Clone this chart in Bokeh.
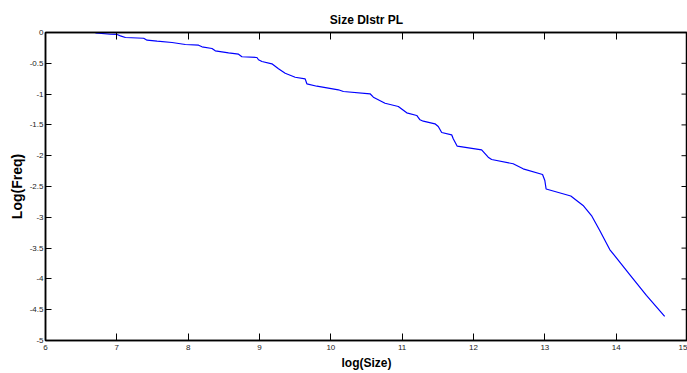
from bokeh.plotting import figure
from bokeh.models import LinearAxis, FixedTicker, Range1d
from bokeh.embed import file_html
from bokeh.resources import INLINE

# ---- data ----
log_size = [6.700, 6.910, 7.004, 7.050, 7.120, 7.376, 7.424, 7.564, 7.774, 7.960,
            8.146, 8.194, 8.334, 8.380, 8.566, 8.706, 8.754, 8.964, 8.986, 9.034,
            9.174, 9.266, 9.360, 9.500, 9.640, 9.664, 9.804, 10.106, 10.176, 10.550,
            10.596, 10.760, 10.946, 11.064, 11.204, 11.250, 11.296, 11.460, 11.506, 11.554,
            11.694, 11.716, 11.772, 12.114, 12.206, 12.254, 12.556, 12.696, 12.968, 13.000,
            13.018, 13.364, 13.536, 13.654, 13.770, 13.910, 14.190, 14.424, 14.680]
log_freq = [-0.005, -0.028, -0.032, -0.054, -0.081, -0.093, -0.125, -0.141, -0.162, -0.195,
            -0.206, -0.232, -0.260, -0.297, -0.330, -0.352, -0.394, -0.406, -0.442, -0.471,
            -0.508, -0.589, -0.661, -0.726, -0.752, -0.833, -0.872, -0.930, -0.958, -0.995,
            -1.050, -1.148, -1.201, -1.304, -1.347, -1.417, -1.440, -1.482, -1.526, -1.623,
            -1.661, -1.726, -1.846, -1.904, -2.024, -2.062, -2.131, -2.213, -2.305, -2.403,
            -2.541, -2.654, -2.808, -2.971, -3.214, -3.523, -3.929, -4.269, -4.610]

x_ticks = [6, 7, 8, 9, 10, 11, 12, 13, 14, 15]
x_tick_labels = ["6", "7", "8", "9", "10", "11", "12", "13", "14", "15"]
y_ticks = [0, -0.5, -1, -1.5, -2, -2.5, -3, -3.5, -4, -4.5, -5]
y_tick_labels = ["0", "-0.5", "-1", "-1.5", "-2", "-2.5", "-3", "-3.5", "-4", "-4.5", "-5"]

title_text = "Size DIstr PL"
x_label = "log(Size)"
y_label = "Log(Freq)"

FONT = "Liberation Sans"
X0, X1 = 6, 15

p = figure(width=687, height=373, output_backend="svg", toolbar_location=None,
           x_range=Range1d(X0, X1), y_range=Range1d(-5, 0),
           min_border_left=45, min_border_right=0, min_border_top=32, min_border_bottom=33,
           title=title_text)
p.grid.visible = False
p.outline_line_color = "black"
p.outline_line_width = 1.5
p.background_fill_color = "white"
p.border_fill_color = "white"

p.title.align = "center"
p.title.text_font = FONT
p.title.text_font_size = "12px"
p.title.text_font_style = "bold"
p.title.text_color = "black"
p.title.standoff = 12

p.line(log_size, log_freq, line_color="#0000ff", line_width=1.2)

# inward ticks on the right edge of the box, one per y tick
tick_len_x = (X1 - X0) * 6 / 642.0
p.segment(x0=[X1] * len(y_ticks), y0=y_ticks, x1=[X1 - tick_len_x] * len(y_ticks), y1=y_ticks,
          line_color="black", line_width=1)

def style(ax, ticks, labels, tick_len, show_labels):
    ax.ticker = FixedTicker(ticks=ticks)
    ax.minor_tick_line_color = None
    ax.major_tick_in = tick_len
    ax.major_tick_out = 0
    ax.major_tick_line_color = "black"
    ax.major_tick_line_width = 1
    ax.axis_line_color = "black"
    ax.axis_line_width = 1.5
    ax.major_label_text_font = FONT
    ax.axis_label_text_font = FONT
    ax.axis_label_text_font_style = "bold"
    ax.axis_label_text_color = "black"
    if show_labels:
        ax.major_label_overrides = {t: l for t, l in zip(ticks, labels)}
        ax.major_label_text_font_size = "8px"
        ax.major_label_text_color = "#222222"
    else:
        ax.major_label_text_color = None
        ax.major_label_standoff = 0

xa = p.xaxis[0]
style(xa, x_ticks, x_tick_labels, 7, True)
xa.axis_label = x_label
xa.axis_label_text_font_size = "12px"
xa.major_label_standoff = 4
xa.axis_label_standoff = 3

ya = p.yaxis[0]
style(ya, y_ticks, y_tick_labels, 6, True)
ya.axis_label = y_label
ya.axis_label_text_font_size = "14px"
ya.major_label_standoff = 2
ya.axis_label_standoff = 2

top = LinearAxis()
style(top, x_ticks, x_tick_labels, 7, False)
p.add_layout(top, "above")

open("out.html", "w").write(file_html(p, INLINE))
